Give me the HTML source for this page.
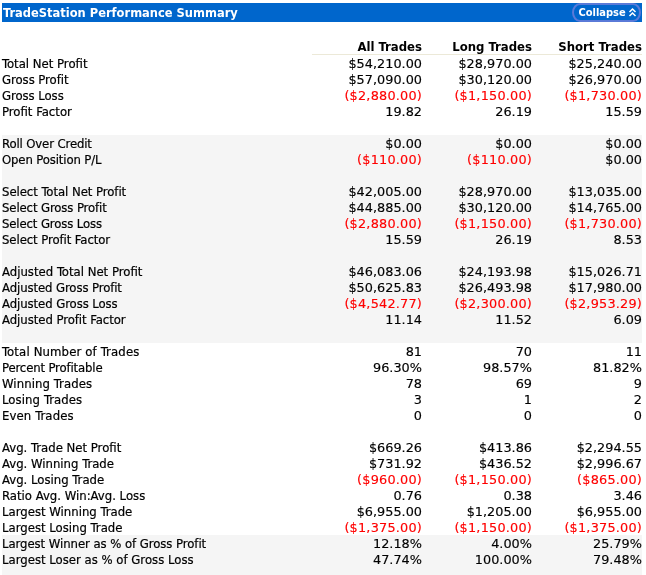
<!DOCTYPE html>
<html><head><meta charset="utf-8"><title>TradeStation Performance Summary</title>
<style>
html,body{margin:0;padding:0;background:#fff;}
body{width:646px;height:575px;overflow:hidden;position:relative;font-family:"DejaVu Sans Condensed","DejaVu Sans","Liberation Sans",sans-serif;font-size:13px;color:#000;}
.bar{position:absolute;left:2px;top:3px;width:640px;height:19px;background:#0066CC;}
.title{position:absolute;left:1px;top:0px;line-height:19px;color:#fff;font-weight:bold;font-size:12.75px;white-space:nowrap;}
.btn{position:absolute;left:570px;top:0;width:65px;height:15px;border:2px solid #5a7ad8;border-radius:8px / 9.5px;box-sizing:content-box;}
.bt{position:absolute;left:4.5px;top:0;line-height:15px;color:#fff;font-weight:bold;font-size:11px;}
.chev{position:absolute;left:54px;top:2px;}
table{position:absolute;left:2px;top:24px;width:640px;border-collapse:collapse;table-layout:fixed;}
td{height:16px;line-height:16px;padding:0;text-align:right;white-space:nowrap;overflow:visible;}
td.l{text-align:left;padding:0;}
.band{position:absolute;left:2px;width:640px;background:#F5F5F5;}
.rule{position:absolute;left:312px;top:54px;width:330px;height:1px;background:#ECE9D8;}
td.n{color:#FF0000;}
tr.h td{height:31px;padding-bottom:1px;line-height:16px;vertical-align:bottom;}
td{font-family:"DejaVu Sans","Liberation Sans",sans-serif;font-size:12.85px;}
td.l,tr.h td{font-size:13px;}
td.l,tr.h td{font-family:"DejaVu Sans Condensed","DejaVu Sans","Liberation Sans",sans-serif;}
td.n{letter-spacing:0.2px;}
td{-webkit-text-stroke-width:0.15px;}
td.l{-webkit-text-stroke-width:0.2px;}
tr.h td{-webkit-text-stroke-width:0;}

</style></head><body>
<div class="bar"><span class="title">TradeStation Performance Summary</span><span class="btn"><span class="bt">Collapse</span><svg class="chev" width="9" height="11" viewBox="0 0 9 11"><path d="M1.5 5 L4.5 2 L7.5 5 M1.5 9 L4.5 6 L7.5 9" fill="none" stroke="#fff" stroke-width="1.5"/></svg></span></div>
<div class="band" style="top:135px;height:208px"></div>
<div class="band" style="top:535px;height:40px"></div>
<div class="rule"></div>
<table cellspacing="0" cellpadding="0">
<colgroup><col style="width:310px"><col style="width:110px"><col style="width:110px"><col style="width:110px"></colgroup>
<tr class="h"><td>&nbsp;</td><td><b>All Trades</b></td><td><b>Long Trades</b></td><td><b>Short Trades</b></td></tr>
<tr><td class="l">Total Net Profit</td><td>$54,210.00</td><td>$28,970.00</td><td>$25,240.00</td></tr>
<tr><td class="l" style="letter-spacing:-0.05px">Gross Profit</td><td>$57,090.00</td><td>$30,120.00</td><td>$26,970.00</td></tr>
<tr><td class="l" style="letter-spacing:-0.06px">Gross Loss</td><td class="n">($2,880.00)</td><td class="n">($1,150.00)</td><td class="n">($1,730.00)</td></tr>
<tr><td class="l">Profit Factor</td><td>19.82</td><td>26.19</td><td>15.59</td></tr>
<tr><td colspan="4">&nbsp;</td></tr>
<tr class="g"><td class="l" style="letter-spacing:-0.13px">Roll Over Credit</td><td>$0.00</td><td>$0.00</td><td>$0.00</td></tr>
<tr class="g"><td class="l" style="letter-spacing:-0.13px">Open Position P/L</td><td class="n">($110.00)</td><td class="n">($110.00)</td><td>$0.00</td></tr>
<tr class="g"><td colspan="4">&nbsp;</td></tr>
<tr class="g"><td class="l" style="letter-spacing:-0.05px">Select Total Net Profit</td><td>$42,005.00</td><td>$28,970.00</td><td>$13,035.00</td></tr>
<tr class="g"><td class="l" style="letter-spacing:-0.12px">Select Gross Profit</td><td>$44,885.00</td><td>$30,120.00</td><td>$14,765.00</td></tr>
<tr class="g"><td class="l" style="letter-spacing:-0.13px">Select Gross Loss</td><td class="n">($2,880.00)</td><td class="n">($1,150.00)</td><td class="n">($1,730.00)</td></tr>
<tr class="g"><td class="l" style="letter-spacing:-0.08px">Select Profit Factor</td><td>15.59</td><td>26.19</td><td>8.53</td></tr>
<tr class="g"><td colspan="4">&nbsp;</td></tr>
<tr class="g"><td class="l">Adjusted Total Net Profit</td><td>$46,083.06</td><td>$24,193.98</td><td>$15,026.71</td></tr>
<tr class="g"><td class="l" style="letter-spacing:-0.1px">Adjusted Gross Profit</td><td>$50,625.83</td><td>$26,493.98</td><td>$17,980.00</td></tr>
<tr class="g"><td class="l" style="letter-spacing:-0.08px">Adjusted Gross Loss</td><td class="n">($4,542.77)</td><td class="n">($2,300.00)</td><td class="n">($2,953.29)</td></tr>
<tr class="g"><td class="l" style="letter-spacing:-0.05px">Adjusted Profit Factor</td><td>11.14</td><td>11.52</td><td>6.09</td></tr>
<tr class="g"><td colspan="4">&nbsp;</td></tr>
<tr><td class="l" style="letter-spacing:0.14px">Total Number of Trades</td><td>81</td><td>70</td><td>11</td></tr>
<tr><td class="l" style="letter-spacing:-0.15px">Percent Profitable</td><td>96.30%</td><td>98.57%</td><td>81.82%</td></tr>
<tr><td class="l" style="letter-spacing:0.08px">Winning Trades</td><td>78</td><td>69</td><td>9</td></tr>
<tr><td class="l" style="letter-spacing:0.08px">Losing Trades</td><td>3</td><td>1</td><td>2</td></tr>
<tr><td class="l" style="letter-spacing:0.1px">Even Trades</td><td>0</td><td>0</td><td>0</td></tr>
<tr><td colspan="4">&nbsp;</td></tr>
<tr><td class="l">Avg. Trade Net Profit</td><td>$669.26</td><td>$413.86</td><td>$2,294.55</td></tr>
<tr><td class="l">Avg. Winning Trade</td><td>$731.92</td><td>$436.52</td><td>$2,996.67</td></tr>
<tr><td class="l">Avg. Losing Trade</td><td class="n">($960.00)</td><td class="n">($1,150.00)</td><td class="n">($865.00)</td></tr>
<tr><td class="l">Ratio Avg. Win:Avg. Loss</td><td>0.76</td><td>0.38</td><td>3.46</td></tr>
<tr><td class="l">Largest Winning Trade</td><td>$6,955.00</td><td>$1,205.00</td><td>$6,955.00</td></tr>
<tr><td class="l">Largest Losing Trade</td><td class="n">($1,375.00)</td><td class="n">($1,150.00)</td><td class="n">($1,375.00)</td></tr>
<tr class="g"><td class="l" style="letter-spacing:-0.06px">Largest Winner as % of Gross Profit</td><td>12.18%</td><td>4.00%</td><td>25.79%</td></tr>
<tr class="g"><td class="l">Largest Loser as % of Gross Loss</td><td>47.74%</td><td>100.00%</td><td>79.48%</td></tr>
<tr class="g"><td colspan="4">&nbsp;</td></tr>
</table>
</body></html>
